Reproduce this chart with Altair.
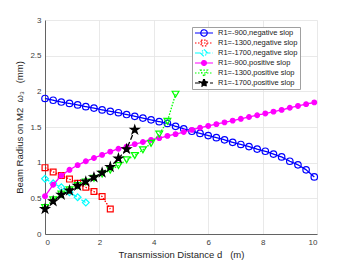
import altair as alt
import pandas as pd

# ---------------- data ----------------
D_FULL = [0.0, 0.3, 0.6, 0.9, 1.2, 1.5, 1.8, 2.1, 2.4, 2.7, 3.0, 3.3, 3.6, 3.9,
          4.2, 4.5, 4.8, 5.1, 5.4, 5.7, 6.0, 6.3, 6.6, 6.9, 7.2, 7.5, 7.8, 8.1,
          8.4, 8.7, 9.0, 9.3, 9.6, 9.9]

neg_900 = [1.90, 1.875, 1.85, 1.83, 1.81, 1.785, 1.765, 1.74, 1.72, 1.70, 1.675,
           1.65, 1.625, 1.60, 1.575, 1.55, 1.51, 1.475, 1.44, 1.41, 1.38, 1.35,
           1.32, 1.285, 1.255, 1.225, 1.19, 1.16, 1.12, 1.08, 1.02, 0.97, 0.90, 0.80]
neg_1300 = [0.93, 0.87, 0.82, 0.77, 0.71, 0.655, 0.595, 0.525, 0.35]
neg_1700 = [0.775, 0.71, 0.655, 0.585, 0.515, 0.44]
pos_900 = [0.53, 0.69, 0.82, 0.90, 0.965, 1.02, 1.065, 1.11, 1.155, 1.195, 1.225,
           1.26, 1.29, 1.32, 1.345, 1.375, 1.40, 1.43, 1.46, 1.49, 1.515, 1.54,
           1.565, 1.59, 1.615, 1.64, 1.665, 1.69, 1.715, 1.74, 1.77, 1.795, 1.82, 1.845]
pos_1300 = [0.37, 0.48, 0.56, 0.62, 0.68, 0.73, 0.78, 0.84, 0.895, 0.96, 1.04,
            1.10, 1.18, 1.27, 1.40, 1.58, 1.96]
pos_1700 = [0.35, 0.46, 0.55, 0.61, 0.675, 0.735, 0.795, 0.86, 0.94, 1.06, 1.19, 1.46]

series_names = ["R1=-900,negative slop", "R1=-1300,negative slop", "R1=-1700,negative slop",
                "R1=-900,positive slop", "R1=-1300,positive slop", "R1=-1700,positive slop"]
series_values = [neg_900, neg_1300, neg_1700, pos_900, pos_1300, pos_1700]

x_ticks = [0, 2, 4, 6, 8, 10]
y_ticks = [0, 0.5, 1, 1.5, 2, 2.5, 3]

NB = "\u00a0"
x_title = "Transmission Distance d" + NB * 3 + "(m)"
y_title = "Beam Radius on M2" + NB * 2 + "\u03c9\u2083" + NB * 3 + "(mm)"

# ---------------- styles ----------------
colors = ["#0000ff", "#ff0000", "#00ffff", "#ff00ff", "#00ff00", "#000000"]
fills = ["transparent", "transparent", "transparent", "#ff00ff", "transparent", "#000000"]
dashes = [[1, 0], [1.5, 1.5], [5, 2, 1.5, 2], [1, 0], [1.5, 1.5], [5, 2.5]]

STAR = ("M0,-1L0.2245,-0.309L0.951,-0.309L0.363,0.118L0.588,0.809L0,0.382"
        "L-0.588,0.809L-0.363,0.118L-0.951,-0.309L-0.2245,-0.309Z")
marker_shapes = ["circle", "square", "diamond", "circle", "triangle-down", STAR]
marker_sizes = [42, 34, 46, 22, 46, 80]


def scaled(path, k):
    out = []
    num = ""
    for ch in path:
        if ch in "-0123456789.":
            num += ch
        else:
            if num:
                out.append(str(round(float(num) * k, 4)))
                num = ""
            out.append(ch)
    if num:
        out.append(str(round(float(num) * k, 4)))
    return "".join(out)


LINE = "M-1,0L1,0"
legend_paths = [
    LINE + "M0.36,0A0.36,0.36,0,1,1,-0.36,0A0.36,0.36,0,1,1,0.36,0",
    LINE + "M-0.32,-0.32L0.32,-0.32L0.32,0.32L-0.32,0.32Z",
    LINE + "M0,-0.4L0.4,0L0,0.4L-0.4,0Z",
    LINE + "M0.27,0A0.27,0.27,0,1,1,-0.27,0A0.27,0.27,0,1,1,0.27,0",
    LINE + "M-0.4,-0.32L0.4,-0.32L0,0.38Z",
    LINE + scaled(STAR, 0.52),
]

rows = []
for name, vals in zip(series_names, series_values):
    for d, v in zip(D_FULL, vals):
        rows.append({"series": name, "d": d, "w": v})
df = pd.DataFrame(rows)

x_enc = alt.X("d:Q", scale=alt.Scale(domain=[0, 10], nice=False),
              axis=alt.Axis(values=x_ticks, title=x_title, format="d"))
y_enc = alt.Y("w:Q", scale=alt.Scale(domain=[0, 3], nice=False),
              axis=alt.Axis(values=y_ticks, format="~g", title=y_title))

layers = []
for i, name in enumerate(series_names):
    sub = alt.Chart(df).transform_filter(alt.datum.series == name)
    layers.append(sub.mark_line(color=colors[i], strokeDash=dashes[i], strokeWidth=1.3)
                  .encode(x=x_enc, y=y_enc))
    layers.append(sub.mark_point(shape=marker_shapes[i], size=marker_sizes[i],
                                 color=colors[i], stroke=colors[i], fill=fills[i],
                                 filled=False, strokeWidth=1.2, opacity=1)
                  .encode(x=x_enc, y=y_enc))

legend_layer = alt.Chart(df).transform_filter("false").mark_point(
    filled=False, strokeWidth=1.2, opacity=1).encode(
    x=x_enc, y=y_enc,
    color=alt.Color("series:N", scale=alt.Scale(domain=series_names, range=colors),
                    legend=alt.Legend(title=None)),
    fill=alt.Fill("series:N", scale=alt.Scale(domain=series_names, range=fills),
                  legend=alt.Legend(title=None)),
    shape=alt.Shape("series:N", scale=alt.Scale(domain=series_names, range=legend_paths),
                    legend=alt.Legend(title=None)),
    strokeDash=alt.StrokeDash("series:N", scale=alt.Scale(domain=series_names, range=dashes),
                              legend=alt.Legend(title=None)),
)
layers.append(legend_layer)

chart = alt.layer(*layers).properties(
    width=272, height=214,
    autosize=alt.AutoSizeParams(type="none"),
    padding={"left": 37, "top": 12, "right": 22, "bottom": 29},
).configure_view(stroke=None).configure_axis(
    grid=True, gridColor="#e3e3e3", gridWidth=0.8,
    domainColor="#404040", domainWidth=0.8,
    tickSize=0,
    labelFont="Liberation Sans", labelFontSize=8, labelColor="#404040",
    titleFont="Liberation Sans", titleFontSize=9.5, titleFontWeight="normal",
    titleColor="#262626",
).configure_axisX(labelPadding=4, titlePadding=3).configure_axisY(
    labelPadding=4, titlePadding=5
).configure_legend(
    orient="none", legendX=147, legendY=7,
    fillColor="white", strokeColor="#a0a0a0", padding=2,
    symbolSize=324, symbolStrokeWidth=1.2, clipHeight=8, rowPadding=2,
    labelFont="Liberation Sans", labelFontSize=7.5, labelColor="#1a1a1a",
    labelOffset=4, labelLimit=200,
)

chart.save("out.html", embed_options={"renderer": "svg", "actions": False})
